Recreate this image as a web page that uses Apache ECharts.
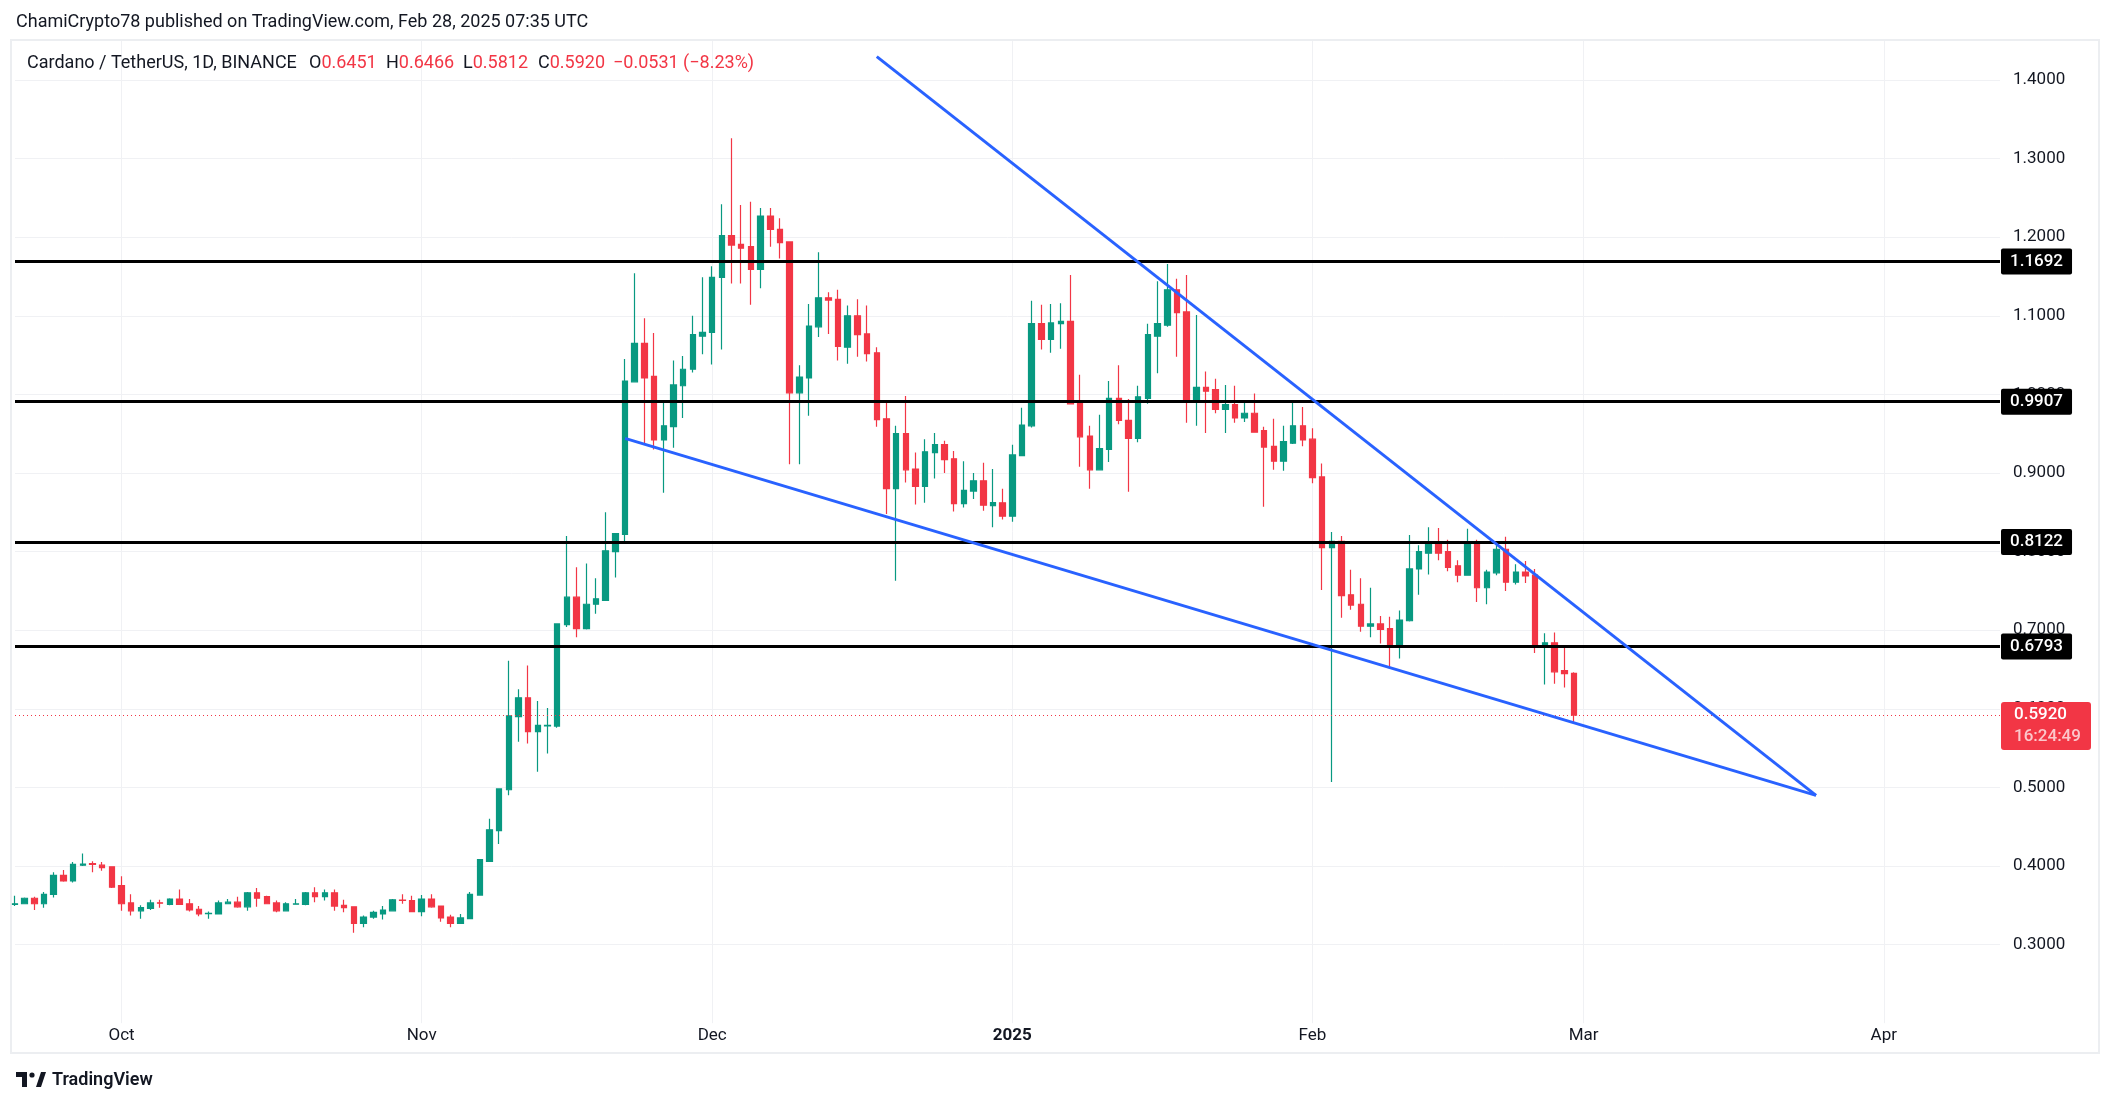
<!DOCTYPE html>
<html>
<head>
<meta charset="utf-8">
<title>Cardano / TetherUS, 1D</title>
<script src="https://cdn.jsdelivr.net/npm/echarts@6/dist/echarts.min.js"></script>
<style>
  html, body { margin: 0; padding: 0; background: #fff; }
  #chart { width: 2114px; height: 1107px; }
</style>
</head>
<body>
<div id="chart"></div>
<script>
const UP = '#089981'
const DOWN = '#f23645'
const INK = '#131722'
const FONT = 'Roboto, "Noto Sans", sans-serif'

// daily candles, rows are [open, high, low, close]
const sep = [
  [0.351, 0.362, 0.349, 0.352], [0.352, 0.360, 0.352, 0.359], [0.359, 0.361, 0.344, 0.352],
  [0.352, 0.367, 0.347, 0.364], [0.364, 0.392, 0.360, 0.388], [0.388, 0.395, 0.380, 0.381],
  [0.381, 0.405, 0.379, 0.402], [0.401, 0.416, 0.400, 0.4025], [0.403, 0.406, 0.392, 0.402],
  [0.401, 0.405, 0.394, 0.398], [0.399, 0.399, 0.372, 0.373]
]
const oct = [
  [0.375, 0.387, 0.343, 0.352], [0.353, 0.364, 0.337, 0.343], [0.343, 0.350, 0.333, 0.347],
  [0.346, 0.357, 0.344, 0.353], [0.3532, 0.357, 0.347, 0.3526], [0.351, 0.359, 0.350, 0.358],
  [0.358, 0.370, 0.351, 0.351], [0.352, 0.358, 0.342, 0.344], [0.345, 0.349, 0.336, 0.339],
  [0.3394, 0.342, 0.333, 0.3398], [0.339, 0.356, 0.339, 0.353], [0.352, 0.358, 0.352, 0.354],
  [0.354, 0.361, 0.347, 0.348], [0.348, 0.367, 0.343, 0.366], [0.366, 0.372, 0.348, 0.359],
  [0.361, 0.362, 0.352, 0.352], [0.353, 0.356, 0.341, 0.343], [0.343, 0.354, 0.343, 0.352],
  [0.3514, 0.358, 0.351, 0.3518], [0.351, 0.367, 0.350, 0.366], [0.366, 0.373, 0.354, 0.361],
  [0.361, 0.370, 0.356, 0.366], [0.366, 0.370, 0.343, 0.349], [0.350, 0.357, 0.341, 0.347],
  [0.348, 0.348, 0.315, 0.327], [0.327, 0.337, 0.322, 0.335], [0.335, 0.343, 0.333, 0.341],
  [0.339, 0.349, 0.332, 0.344], [0.343, 0.358, 0.343, 0.357], [0.3567, 0.364, 0.352, 0.3563],
  [0.356, 0.362, 0.342, 0.342]
]
const nov = [
  [0.342, 0.363, 0.336, 0.358], [0.358, 0.364, 0.347, 0.348], [0.349, 0.349, 0.329, 0.334],
  [0.335, 0.338, 0.322, 0.327], [0.327, 0.339, 0.327, 0.334], [0.333, 0.367, 0.333, 0.364],
  [0.363, 0.408, 0.362, 0.408], [0.406, 0.460, 0.406, 0.446], [0.445, 0.498, 0.428, 0.498],
  [0.497, 0.661, 0.490, 0.591], [0.590, 0.625, 0.558, 0.614], [0.614, 0.655, 0.556, 0.571],
  [0.571, 0.610, 0.520, 0.579], [0.5783, 0.601, 0.543, 0.5788], [0.578, 0.708, 0.576, 0.708],
  [0.707, 0.820, 0.704, 0.742], [0.742, 0.780, 0.691, 0.702], [0.702, 0.785, 0.701, 0.733],
  [0.733, 0.766, 0.721, 0.740], [0.738, 0.850, 0.738, 0.801], [0.800, 0.823, 0.767, 0.823],
  [0.822, 1.045, 0.813, 1.017], [1.016, 1.154, 1.016, 1.065], [1.065, 1.097, 0.938, 1.021],
  [1.023, 1.078, 0.930, 0.942], [0.942, 0.990, 0.875, 0.960], [0.959, 1.043, 0.932, 1.012],
  [1.011, 1.049, 0.970, 1.032], [1.032, 1.100, 1.028, 1.076], [1.074, 1.149, 1.051, 1.079]
]
const dec = [
  [1.079, 1.163, 1.038, 1.149], [1.149, 1.242, 1.057, 1.202], [1.202, 1.326, 1.141, 1.190],
  [1.191, 1.241, 1.141, 1.186], [1.188, 1.245, 1.114, 1.159], [1.159, 1.237, 1.135, 1.227],
  [1.227, 1.237, 1.188, 1.210], [1.210, 1.224, 1.173, 1.193], [1.194, 1.194, 0.911, 1.002],
  [1.002, 1.037, 0.911, 1.022], [1.021, 1.115, 0.973, 1.087], [1.086, 1.181, 1.073, 1.123],
  [1.123, 1.130, 1.077, 1.120], [1.121, 1.133, 1.043, 1.061], [1.060, 1.113, 1.039, 1.100],
  [1.100, 1.121, 1.048, 1.076], [1.077, 1.113, 1.042, 1.052], [1.053, 1.060, 0.959, 0.968],
  [0.969, 0.989, 0.848, 0.880], [0.880, 0.960, 0.763, 0.950], [0.950, 0.998, 0.888, 0.904],
  [0.905, 0.926, 0.860, 0.883], [0.883, 0.943, 0.862, 0.927], [0.926, 0.951, 0.893, 0.936],
  [0.936, 0.941, 0.900, 0.917], [0.918, 0.928, 0.851, 0.861], [0.861, 0.915, 0.856, 0.878],
  [0.877, 0.900, 0.867, 0.890], [0.890, 0.913, 0.852, 0.859], [0.8585, 0.905, 0.831, 0.8623],
  [0.862, 0.880, 0.841, 0.845]
]
const jan = [
  [0.845, 0.936, 0.838, 0.923], [0.922, 0.983, 0.922, 0.961], [0.960, 1.119, 0.958, 1.090],
  [1.090, 1.114, 1.057, 1.070], [1.070, 1.115, 1.053, 1.091], [1.090, 1.116, 1.058, 1.093],
  [1.093, 1.152, 0.988, 0.988], [0.989, 1.025, 0.908, 0.946], [0.947, 0.960, 0.880, 0.904],
  [0.904, 0.974, 0.904, 0.931], [0.930, 1.017, 0.914, 0.995], [0.995, 1.037, 0.962, 0.967],
  [0.967, 0.994, 0.876, 0.944], [0.944, 1.011, 0.939, 0.997], [0.995, 1.090, 0.988, 1.076],
  [1.074, 1.144, 1.027, 1.090], [1.088, 1.166, 1.086, 1.133], [1.133, 1.147, 1.048, 1.104],
  [1.105, 1.152, 0.964, 0.992], [0.992, 1.101, 0.960, 1.009], [1.009, 1.029, 0.951, 1.004],
  [1.006, 1.020, 0.976, 0.981], [0.981, 1.012, 0.951, 0.987], [0.987, 1.011, 0.964, 0.970],
  [0.970, 0.992, 0.965, 0.976], [0.976, 1.001, 0.952, 0.952], [0.954, 0.959, 0.857, 0.933],
  [0.934, 0.969, 0.904, 0.915], [0.915, 0.960, 0.903, 0.940], [0.938, 0.989, 0.937, 0.960],
  [0.960, 0.984, 0.934, 0.942]
]
const feb = [
  [0.943, 0.957, 0.887, 0.894], [0.895, 0.912, 0.751, 0.805], [0.805, 0.825, 0.507, 0.813],
  [0.813, 0.820, 0.716, 0.744], [0.745, 0.777, 0.726, 0.732], [0.733, 0.766, 0.698, 0.705],
  [0.705, 0.754, 0.691, 0.708], [0.708, 0.718, 0.683, 0.701], [0.702, 0.717, 0.651, 0.682],
  [0.682, 0.725, 0.664, 0.713], [0.712, 0.821, 0.711, 0.778], [0.778, 0.808, 0.745, 0.800],
  [0.798, 0.831, 0.771, 0.811], [0.811, 0.830, 0.789, 0.798], [0.800, 0.815, 0.775, 0.780],
  [0.782, 0.789, 0.761, 0.770], [0.770, 0.829, 0.770, 0.810], [0.810, 0.815, 0.736, 0.754],
  [0.754, 0.777, 0.733, 0.774], [0.773, 0.811, 0.770, 0.803], [0.803, 0.819, 0.750, 0.761],
  [0.761, 0.784, 0.758, 0.774], [0.774, 0.788, 0.760, 0.769], [0.770, 0.778, 0.671, 0.682],
  [0.682, 0.696, 0.631, 0.684], [0.684, 0.697, 0.632, 0.647], [0.6485, 0.680, 0.627, 0.6447],
  [0.6451, 0.6466, 0.5812, 0.5920]
]
const candles = [].concat(sep, oct, nov, dec, jan, feb)

// one category per day, from the first candle to the right edge of the pane
const firstDay = Date.UTC(2024, 8, 20)
const dayCount = 206
const dates = []
for (let i = 0; i < dayCount; i++) {
  dates.push(new Date(firstDay + i * 864e5).toISOString().slice(0, 10))
}

const monthNames = ['Jan', 'Feb', 'Mar', 'Apr', 'May', 'Jun', 'Jul', 'Aug', 'Sep', 'Oct', 'Nov', 'Dec']
const yearLabel = '2025'

const levels = [1.1692, 0.9907, 0.8122, 0.6793]
const upperTrend = [['2024-12-18', 1.4298], ['2025-03-25', 0.4898]]
const lowerTrend = [['2024-11-22', 0.9440], ['2025-03-25', 0.4898]]
const lastPrice = 0.5920
const lastClock = '16:24:49'
const priceMin = 0.2
const priceMax = 1.4509
const priceStep = 0.1

const isMonthStart = (i, v) => v.slice(8) === '01'

const chart = echarts.init(document.getElementById('chart'))

chart.setOption({
  animation: false,
  backgroundColor: '#ffffff',
  grid: { left: 15, right: 114, top: 40, bottom: 83.8 },
  xAxis: {
    type: 'category',
    data: dates,
    boundaryGap: false,
    axisLine: { show: false },
    axisTick: { show: false },
    axisLabel: {
      interval: isMonthStart,
      margin: 4,
      color: INK,
      fontSize: 17,
      fontFamily: FONT,
      formatter: v => {
        const m = +v.slice(5, 7)
        return m === 1 ? '{y|' + yearLabel + '}' : monthNames[m - 1]
      },
      rich: { y: { fontWeight: 'bold', fontSize: 17, color: INK, fontFamily: FONT } }
    },
    splitLine: { show: true, interval: isMonthStart, lineStyle: { color: '#f0f1f4', width: 1 } }
  },
  yAxis: {
    type: 'value',
    position: 'right',
    min: priceMin,
    max: priceMax,
    interval: priceStep,
    axisLine: { show: false },
    axisTick: { show: false },
    axisLabel: {
      margin: 13,
      color: INK,
      fontSize: 17,
      fontFamily: FONT,
      showMinLabel: false,
      formatter: v => {
        const onStep = Math.abs(v * 10 - Math.round(v * 10)) < 1e-6
        return onStep && v > 0.25 && v < 1.45 ? v.toFixed(4) : ''
      }
    },
    splitLine: { lineStyle: { color: '#f0f1f4', width: 1 }, showMinLine: false, showMaxLine: false }
  },
  series: [{
    type: 'candlestick',
    data: candles.map(r => [r[0], r[3], r[2], r[1]]),
    barWidth: 6,
    itemStyle: {
      color: UP,
      color0: DOWN,
      borderColor: UP,
      borderColor0: DOWN,
      borderWidth: 1.2
    },
    markLine: {
      silent: true,
      animation: false,
      precision: 4,
      symbol: ['none', 'none'],
      lineStyle: { color: '#2962ff', width: 3, type: 'solid' },
      label: { show: false },
      data: [
        ...levels.map(v => ({
          yAxis: v,
          lineStyle: { color: '#000000', width: 3, type: 'solid' },
          label: {
            show: true,
            position: 'end',
            distance: 1,
            formatter: v.toFixed(4),
            color: '#ffffff',
            backgroundColor: '#000000',
            borderRadius: 2,
            padding: [5, 9, 4, 9],
            fontSize: 17,
            fontWeight: 500,
            fontFamily: FONT
          }
        })),
        { yAxis: lastPrice, lineStyle: { color: DOWN, width: 1, type: [1, 3] }, label: { show: false } },
        [{ coord: upperTrend[0] }, { coord: upperTrend[1] }],
        [{ coord: lowerTrend[0] }, { coord: lowerTrend[1] }]
      ]
    }
  }]
})

// header, frame, logo and the live price tag
const tagY = chart.convertToPixel({ yAxisIndex: 0 }, lastPrice)
const redRich = { r: { fill: DOWN, font: '18px ' + FONT } }
const headFont = '18px ' + FONT

chart.setOption({
  graphic: [
    {
      type: 'rect',
      shape: { x: 11, y: 40, width: 2088, height: 1013 },
      style: { fill: 'none', stroke: '#eceef1', lineWidth: 2 },
      silent: true
    },
    {
      type: 'text',
      style: {
        x: 16, y: 22, verticalAlign: 'middle',
        text: 'ChamiCrypto78 published on TradingView.com, Feb 28, 2025 07:35 UTC',
        fill: INK, font: headFont
      }
    },
    {
      type: 'text',
      style: { x: 27, y: 63, verticalAlign: 'middle', text: 'Cardano / TetherUS, 1D, BINANCE', fill: INK, font: headFont }
    },
    { type: 'text', style: { x: 309, y: 63, verticalAlign: 'middle', text: 'O{r|0.6451}', rich: redRich, fill: INK, font: headFont } },
    { type: 'text', style: { x: 386, y: 63, verticalAlign: 'middle', text: 'H{r|0.6466}', rich: redRich, fill: INK, font: headFont } },
    { type: 'text', style: { x: 463, y: 63, verticalAlign: 'middle', text: 'L{r|0.5812}', rich: redRich, fill: INK, font: headFont } },
    { type: 'text', style: { x: 538, y: 63, verticalAlign: 'middle', text: 'C{r|0.5920}', rich: redRich, fill: INK, font: headFont } },
    { type: 'text', style: { x: 613, y: 63, verticalAlign: 'middle', text: '\u22120.0531 (\u22128.23%)', fill: DOWN, font: headFont } },
    {
      type: 'group',
      x: 2001,
      y: tagY - 13,
      z: 100,
      children: [
        { type: 'rect', z: 100, shape: { x: 0, y: 0, width: 90, height: 48, r: 3 }, style: { fill: DOWN } },
        { type: 'text', z: 101, style: { x: 13, y: 13, verticalAlign: 'middle', text: lastPrice.toFixed(4), fill: '#ffffff', font: '500 17px ' + FONT } },
        { type: 'text', z: 101, style: { x: 13, y: 35, verticalAlign: 'middle', text: lastClock, fill: 'rgba(255,255,255,0.72)', font: '500 17px ' + FONT } }
      ]
    },
    {
      type: 'group',
      x: 16,
      y: 1072,
      children: [
        { type: 'rect', shape: { x: 0, y: 0, width: 11, height: 5 }, style: { fill: INK } },
        { type: 'rect', shape: { x: 6, y: 0, width: 5, height: 15 }, style: { fill: INK } },
        { type: 'circle', shape: { cx: 16, cy: 3, r: 2.6 }, style: { fill: INK } },
        { type: 'polygon', shape: { points: [[20, 15], [25, 0], [30, 0], [25, 15]] }, style: { fill: INK } },
        { type: 'text', style: { x: 36, y: 8, verticalAlign: 'middle', text: 'TradingView', fill: INK, font: '600 18px ' + FONT } }
      ]
    }
  ]
})
</script>
</body>
</html>
